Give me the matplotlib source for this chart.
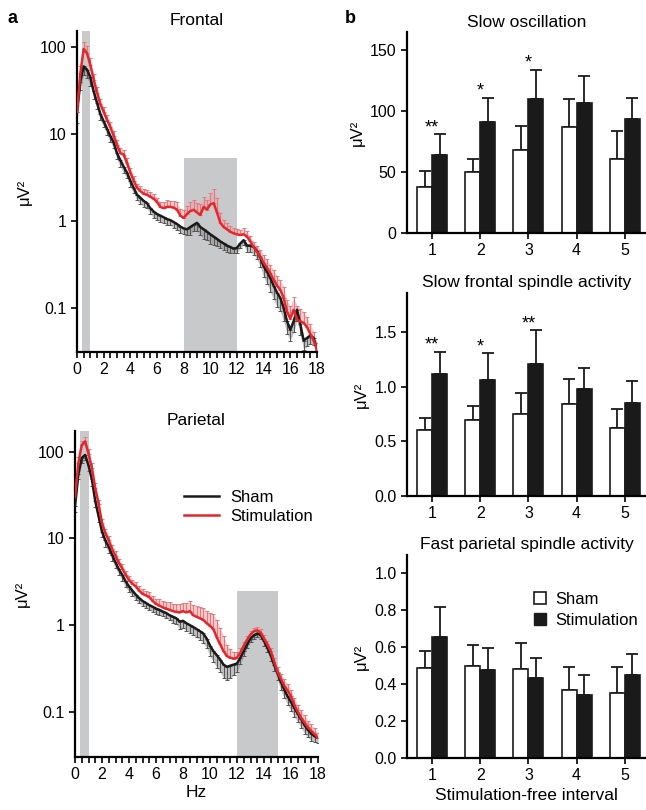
import numpy as np
import matplotlib
matplotlib.use('Agg')
import matplotlib.pyplot as plt
from matplotlib.lines import Line2D
from matplotlib.ticker import NullLocator, MultipleLocator

plt.rcParams['font.family'] = ['Liberation Sans', 'DejaVu Sans']

# Spectra, 0-18 Hz in 0.25 Hz steps (uV^2)
freqs = np.arange(0, 18.01, 0.25)

frontal_sham = [18, 40, 60, 55, 45, 31, 23, 17, 14, 11.5, 9.5, 8.0,
                6.0, 5.0, 4.2, 3.6, 2.9, 2.4, 2.0, 1.85, 1.7, 1.6, 1.4, 1.28,
                1.2, 1.15, 1.1, 1.05, 1.02, 0.97, 0.92, 0.86, 0.82, 0.8, 0.85, 0.9,
                0.95, 0.85, 0.8, 0.75, 0.7, 0.66, 0.62, 0.58, 0.55, 0.52, 0.5, 0.48,
                0.49, 0.55, 0.6, 0.52, 0.52, 0.5, 0.45, 0.38, 0.3, 0.26, 0.22, 0.18,
                0.15, 0.13, 0.1, 0.07, 0.056, 0.07, 0.095, 0.065, 0.042, 0.045, 0.048, 0.045,
                0.033]
frontal_stim = [18, 50, 95, 85, 62, 42, 30, 22, 18, 14.5, 12, 9.5,
                7.5, 6.0, 5.8, 4.6, 3.6, 2.9, 2.4, 2.2, 2.05, 2.0, 1.9, 1.8,
                1.65, 1.45, 1.4, 1.45, 1.45, 1.42, 1.35, 1.15, 1.08, 1.2, 1.3, 1.34,
                1.25, 1.17, 1.45, 1.35, 1.55, 1.6, 1.25, 0.95, 0.85, 0.8, 0.75, 0.72,
                0.7, 0.69, 0.7, 0.66, 0.58, 0.5, 0.44, 0.39, 0.33, 0.29, 0.25, 0.21,
                0.18, 0.16, 0.13, 0.09, 0.075, 0.095, 0.073, 0.07, 0.067, 0.06, 0.05, 0.042,
                0.033]
parietal_sham = [24, 55, 85, 92, 70, 48, 27, 18, 12, 9.5, 8.0, 6.5,
                 5.3, 4.4, 3.8, 3.2, 2.8, 2.5, 2.25, 2.05, 1.9, 1.8, 1.7, 1.63,
                 1.55, 1.5, 1.43, 1.38, 1.3, 1.25, 1.2, 1.1, 1.12, 1.05, 1.0, 0.95,
                 0.9, 0.85, 0.8, 0.7, 0.58, 0.5, 0.45, 0.4, 0.35, 0.33, 0.34, 0.35,
                 0.36, 0.42, 0.5, 0.6, 0.7, 0.76, 0.8, 0.77, 0.66, 0.55, 0.45, 0.35,
                 0.28, 0.22, 0.18, 0.15, 0.13, 0.11, 0.095, 0.082, 0.07, 0.062, 0.056, 0.052,
                 0.05]
parietal_stim = [30, 75, 120, 132, 95, 65, 38, 25, 15, 11.5, 9.5, 7.5,
                 6.3, 5.2, 4.5, 3.8, 3.3, 3.0, 2.8, 2.5, 2.3, 2.2, 2.1, 1.9,
                 1.75, 1.68, 1.6, 1.55, 1.5, 1.45, 1.42, 1.4, 1.45, 1.4, 1.45, 1.3,
                 1.25, 1.2, 1.15, 1.05, 0.98, 0.9, 0.72, 0.6, 0.5, 0.44, 0.42, 0.41,
                 0.42, 0.48, 0.58, 0.68, 0.78, 0.85, 0.87, 0.82, 0.7, 0.6, 0.5, 0.38,
                 0.29, 0.24, 0.2, 0.175, 0.15, 0.12, 0.1, 0.085, 0.075, 0.066, 0.06, 0.055,
                 0.05]

# relative s.e.m. (stimulation drawn upward, sham drawn downward)
frontal_stim_err = [0.2, 0.2, 0.22, 0.2, 0.2, 0.18, 0.15,
                    0.15, 0.14, 0.15, 0.13, 0.15, 0.14, 0.15, 0.13, 0.15, 0.14, 0.13, 0.12, 0.14,
                    0.13, 0.12, 0.13, 0.14, 0.12, 0.15, 0.18, 0.2, 0.18, 0.2, 0.22, 0.2, 0.25,
                    0.25, 0.28, 0.3, 0.3, 0.35, 0.3, 0.3, 0.35, 0.45, 0.45, 0.3, 0.2, 0.18, 0.15,
                    0.15, 0.15, 0.15, 0.18, 0.15, 0.15, 0.15, 0.18, 0.2, 0.22,
                    0.25, 0.25, 0.3, 0.3, 0.3, 0.35, 0.35, 0.4, 0.4, 0.45, 0.4, 0.35, 0.3, 0.3, 0.25, 0.2]
frontal_sham_err = [0.25, 0.2, 0.2, 0.2, 0.2, 0.18, 0.15,
                    0.15, 0.14, 0.15, 0.15, 0.14, 0.15, 0.16, 0.15, 0.14, 0.15, 0.13, 0.14, 0.15,
                    0.14, 0.13, 0.14, 0.15, 0.14, 0.15, 0.14, 0.15, 0.13, 0.15, 0.14, 0.15, 0.14,
                    0.15, 0.18, 0.15, 0.2, 0.2, 0.22, 0.2, 0.22, 0.2, 0.18, 0.15, 0.15, 0.15, 0.14,
                    0.12, 0.12, 0.12, 0.12, 0.15, 0.15, 0.18, 0.2, 0.22, 0.25,
                    0.28, 0.3, 0.3, 0.32, 0.3, 0.3, 0.28, 0.25, 0.25, 0.25, 0.25, 0.22, 0.2, 0.2, 0.18, 0.15]
parietal_stim_err = [0.2, 0.15, 0.12, 0.12, 0.15, 0.15, 0.15,
                     0.12, 0.12, 0.13, 0.12, 0.12, 0.13, 0.12, 0.12, 0.12, 0.13, 0.12, 0.12, 0.12,
                     0.13, 0.12, 0.14, 0.15, 0.15, 0.18, 0.2, 0.2, 0.22, 0.22, 0.25, 0.25, 0.25,
                     0.28, 0.3, 0.3, 0.32, 0.35, 0.38, 0.4, 0.42, 0.5, 0.6, 0.55, 0.5, 0.35, 0.25,
                     0.2, 0.15, 0.12, 0.1, 0.1, 0.1, 0.1, 0.1, 0.1, 0.1,
                     0.1, 0.1, 0.1, 0.12, 0.15, 0.18, 0.2, 0.2, 0.2, 0.2, 0.22, 0.22, 0.2, 0.2, 0.18, 0.15]
parietal_sham_err = [0.15, 0.12, 0.12, 0.12, 0.15, 0.15, 0.15,
                     0.15, 0.14, 0.15, 0.14, 0.15, 0.14, 0.13, 0.14, 0.15, 0.14, 0.13, 0.14, 0.13,
                     0.12, 0.13, 0.12, 0.12, 0.13, 0.12, 0.12, 0.13, 0.12, 0.15, 0.15, 0.18, 0.18,
                     0.18, 0.18, 0.2, 0.2, 0.2, 0.22, 0.22, 0.25, 0.25, 0.28, 0.28, 0.3, 0.3, 0.28,
                     0.25, 0.2, 0.15, 0.12, 0.1, 0.1, 0.1, 0.1, 0.1, 0.12,
                     0.12, 0.15, 0.15, 0.18, 0.2, 0.2, 0.2, 0.22, 0.2, 0.2, 0.2, 0.2, 0.18, 0.18, 0.15, 0.12]

# Bar data (stimulation-free intervals 1-5)
intervals = [1, 2, 3, 4, 5]
so_sham = [38, 50, 68, 87, 61]
so_sham_err = [13, 11, 20, 23, 23]
so_stim = [64, 91, 110, 107, 94]
so_stim_err = [17, 20, 24, 22, 17]
so_stars = ['**', '*', '*', '', '']

sf_sham = [0.60, 0.70, 0.75, 0.84, 0.62]
sf_sham_err = [0.11, 0.12, 0.19, 0.23, 0.18]
sf_stim = [1.12, 1.06, 1.21, 0.98, 0.85]
sf_stim_err = [0.20, 0.25, 0.31, 0.19, 0.20]
sf_stars = ['**', '*', '**', '', '']

fp_sham = [0.49, 0.50, 0.48, 0.37, 0.35]
fp_sham_err = [0.09, 0.11, 0.145, 0.125, 0.145]
fp_stim = [0.655, 0.475, 0.435, 0.34, 0.45]
fp_stim_err = [0.165, 0.12, 0.105, 0.11, 0.115]
fp_stars = ['', '', '', '', '']

RED = '#e5262c'
BLACK = '#1a1a1a'
BAND = '#c8c9cb'

fig = plt.figure(figsize=(6.46, 8.10), dpi=100)


def spectrum(ax, sham, stim, sham_err, stim_err, bands, ylim, title, xlabel=False):
    sham = np.array(sham)
    stim = np.array(stim)
    lo_sham = sham * (1 - np.array(sham_err))
    hi_stim = stim * (1 + np.array(stim_err))
    for lo, hi, top in bands:
        ax.fill_between([lo, hi], ylim[0], top, color=BAND, lw=0, zorder=0)
    # dense s.e.m. bars look like a light shading in the original
    ax.fill_between(freqs, lo_sham, sham, color='#8a8a8a', alpha=0.55, lw=0, zorder=1)
    ax.fill_between(freqs, stim, hi_stim, color='#eea3a6', alpha=0.6, lw=0, zorder=1)
    ax.errorbar(freqs, sham, yerr=[sham - lo_sham, np.zeros_like(sham)],
                fmt='none', ecolor='#555555', elinewidth=0.7, capsize=1.3, capthick=0.7, zorder=2)
    ax.errorbar(freqs, stim, yerr=[np.zeros_like(stim), hi_stim - stim],
                fmt='none', ecolor='#e07a7e', elinewidth=0.7, capsize=1.3, capthick=0.7, zorder=2)
    ax.plot(freqs, sham, color=BLACK, lw=1.8, label='Sham', zorder=3)
    ax.plot(freqs, stim, color=RED, lw=1.8, label='Stimulation', zorder=4)
    ax.set_yscale('log')
    ax.set_ylim(*ylim)
    ax.set_xlim(0, 18)
    ax.set_yticks([0.1, 1, 10, 100])
    ax.set_yticklabels(['0.1', '1', '10', '100'])
    ax.yaxis.set_minor_locator(NullLocator())
    ax.set_xticks(range(0, 19, 2))
    ax.xaxis.set_minor_locator(MultipleLocator(0.5))
    ax.tick_params(axis='both', which='both', direction='out', width=1.2, labelsize=11.5)
    ax.tick_params(axis='x', which='both', length=4)
    ax.tick_params(axis='y', length=4)
    for s in ['top', 'right']:
        ax.spines[s].set_visible(False)
    for s in ['left', 'bottom']:
        ax.spines[s].set_linewidth(1.6)
    ax.set_ylabel('μV²', fontsize=12, labelpad=6)
    ax.set_title(title, fontsize=12.5, pad=4)
    if xlabel:
        ax.set_xlabel('Hz', fontsize=12.5, labelpad=2)


ax1 = fig.add_axes([0.1192, 0.5654, 0.3715, 0.3963])
spectrum(ax1, frontal_sham, frontal_stim, frontal_sham_err, frontal_stim_err,
         [(0.35, 1.0, 1000), (8, 12, 5.3)], (0.031, 153), 'Frontal')

ax2 = fig.add_axes([0.1161, 0.0654, 0.3762, 0.4025])
spectrum(ax2, parietal_sham, parietal_stim, parietal_sham_err, parietal_stim_err,
         [(0.35, 1.0, 1000), (12, 15, 2.45)], (0.030, 174), 'Parietal', xlabel=True)
ax2.legend(loc='upper left', bbox_to_anchor=(0.42, 0.84), frameon=False, fontsize=12,
           handlelength=2.1, handletextpad=0.7, labelspacing=0.25, borderaxespad=0)


def bars(ax, sham, sham_err, stim, stim_err, stars, ylim, yticks, fmt, title, xlabel=False):
    x = np.array(intervals)
    w = 0.31
    ax.bar(x - w / 2, sham, w, color='white', edgecolor=BLACK, lw=1.2, zorder=2)
    ax.bar(x + w / 2, stim, w, color=BLACK, edgecolor=BLACK, lw=1.2, zorder=2)
    ax.errorbar(x - w / 2, sham, yerr=[np.zeros(5), sham_err], fmt='none', ecolor=BLACK,
                elinewidth=1.3, capsize=4, capthick=1.3, zorder=1)
    ax.errorbar(x + w / 2, stim, yerr=[np.zeros(5), stim_err], fmt='none', ecolor=BLACK,
                elinewidth=1.3, capsize=4, capthick=1.3, zorder=1)
    for xi, top, s in zip(x, np.array(stim) + np.array(stim_err), stars):
        if s:
            ax.text(xi, top - 0.01 * (ylim[1] - ylim[0]), s, ha='center', va='bottom', fontsize=13)
    ax.set_xlim(0.48, 5.44)
    ax.set_ylim(*ylim)
    ax.set_xticks(x)
    ax.set_yticks(yticks)
    ax.set_yticklabels([fmt.format(v) for v in yticks])
    ax.tick_params(direction='out', width=1.2, length=4, labelsize=11.5)
    for s in ['top', 'right']:
        ax.spines[s].set_visible(False)
    for s in ['left', 'bottom']:
        ax.spines[s].set_linewidth(1.6)
    ax.set_ylabel('μV²', fontsize=12, labelpad=4)
    ax.set_title(title, fontsize=12.5, pad=4)
    if xlabel:
        ax.set_xlabel('Stimulation-free interval', fontsize=12.5, labelpad=3)


ax3 = fig.add_axes([0.630, 0.7123, 0.370, 0.2481])
bars(ax3, so_sham, so_sham_err, so_stim, so_stim_err, so_stars, (0, 165),
     [0, 50, 100, 150], '{:.0f}', 'Slow oscillation')

ax4 = fig.add_axes([0.630, 0.3877, 0.370, 0.2506])
bars(ax4, sf_sham, sf_sham_err, sf_stim, sf_stim_err, sf_stars, (0, 1.86),
     [0.0, 0.5, 1.0, 1.5], '{:.1f}', 'Slow frontal spindle activity')

ax5 = fig.add_axes([0.630, 0.0642, 0.370, 0.2506])
bars(ax5, fp_sham, fp_sham_err, fp_stim, fp_stim_err, fp_stars, (0, 1.10),
     [0.0, 0.2, 0.4, 0.6, 0.8, 1.0], '{:.1f}', 'Fast parietal spindle activity', xlabel=True)
handles = [Line2D([], [], ls='none', marker='s', markersize=9, markerfacecolor='white',
                  markeredgecolor=BLACK, markeredgewidth=1.2),
           Line2D([], [], ls='none', marker='s', markersize=9, markerfacecolor=BLACK,
                  markeredgecolor=BLACK)]
ax5.legend(handles, ['Sham', 'Stimulation'], loc='upper left', bbox_to_anchor=(0.50, 0.85),
           frameon=False, fontsize=12, handlelength=0.8, handletextpad=0.5,
           labelspacing=0.35, borderaxespad=0)

fig.text(0.012, 0.972, 'a', fontsize=13, fontweight='bold')
fig.text(0.533, 0.972, 'b', fontsize=13, fontweight='bold')

fig.savefig('out.png', dpi=100)
